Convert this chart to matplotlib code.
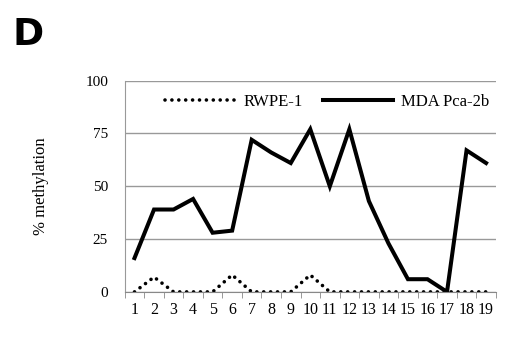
import numpy as np
import matplotlib.pyplot as plt

sites = list(range(1, 20))
rwpe1 = [0, 7, 0, 0, 0, 8, 0, 0, 0, 8, 0, 0, 0, 0, 0, 0, 0, 0, 0]
mda_pca2b = [16, 39, 39, 44, 28, 29, 72, 66, 61, 77, 50, 77, 43, 23, 6, 6, 0, 67, 61]
yticks = [0, 25, 50, 75, 100]

plt.rcParams['font.family'] = ['Liberation Serif', 'DejaVu Serif']

fig = plt.figure(figsize=(5.07, 3.39), dpi=100)
ax = fig.add_axes([0.246, 0.139, 0.732, 0.623])

ax.plot(sites, rwpe1, color='black', lw=2.6, linestyle=(0, (0.01, 1.9)),
        dash_capstyle='round', label='RWPE-1')
ax.plot(sites, mda_pca2b, color='black', lw=2.9, solid_joinstyle='miter',
        label='MDA Pca-2b')

ax.set_xlim(0.5, 19.5)
ax.set_ylim(0, 100)
ax.set_yticks(yticks)
ax.set_xticks(sites)
ax.set_xticklabels([str(s) for s in sites], fontsize=11.5)
ax.set_xticks(np.arange(0.5, 20, 1), minor=True)
ax.tick_params(axis='x', which='major', length=0, pad=7)
ax.tick_params(axis='x', which='minor', length=4, color='#888888')
ax.tick_params(axis='y', length=0, labelsize=11, pad=12)
ax.yaxis.grid(True, color='#999999', lw=1)
ax.set_axisbelow(True)
for s in ['top', 'right']:
    ax.spines[s].set_visible(False)
ax.spines['left'].set_color('#999999')
ax.spines['bottom'].set_color('#888888')
ax.set_ylabel('% methylation', fontsize=12, labelpad=26)

ax.legend(loc='upper right', ncol=2, frameon=False, fontsize=12,
          handlelength=4.2, columnspacing=1.2, handletextpad=0.5,
          bbox_to_anchor=(1.0, 0.97), borderaxespad=0)

fig.text(0.025, 0.95, 'D', fontsize=27, fontweight='bold', family='DejaVu Sans',
         va='top', ha='left')

fig.savefig('out.png', dpi=100)
